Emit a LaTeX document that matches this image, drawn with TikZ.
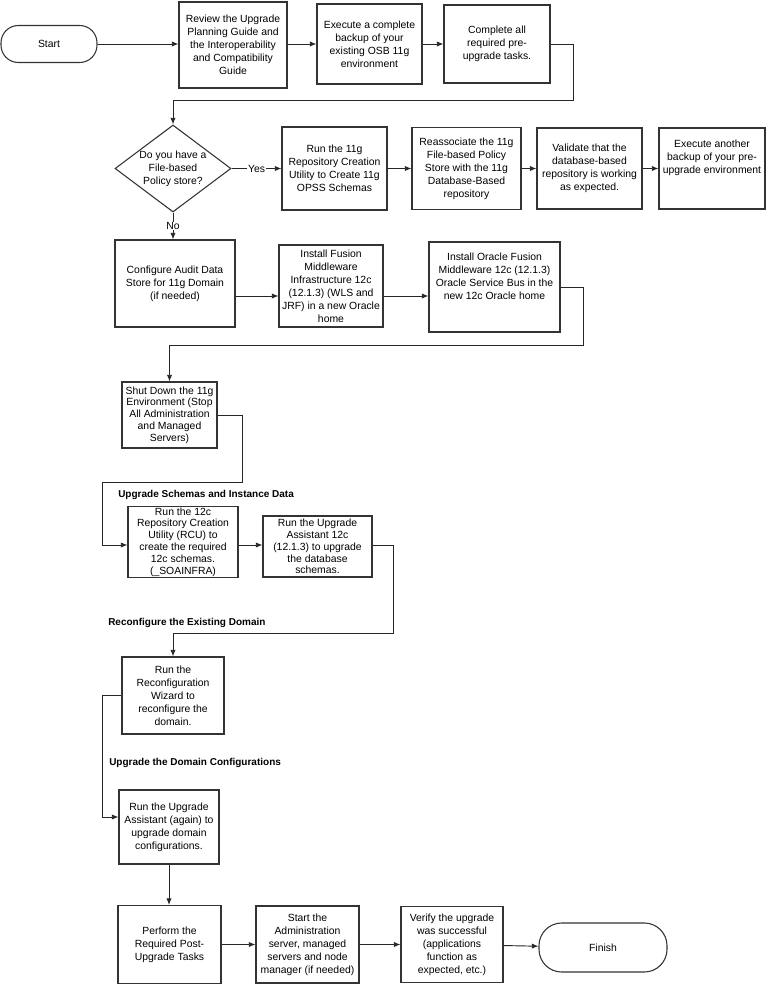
\documentclass[tikz,border=0pt]{standalone}
\usepackage{fontspec}
\setmainfont{Liberation Sans}
\usetikzlibrary{shapes, arrows.meta, positioning}

\begin{document}
\begin{tikzpicture}[x=0.75pt, y=-0.75pt,
    font=\fontsize{7.8pt}{9.75pt}\selectfont,
    box/.style={rectangle, draw=black!80, line width=0.8pt, align=center, inner sep=1pt},
    tight/.style={font=\fontsize{7.8pt}{8.85pt}\selectfont},
    term/.style={rectangle, draw=black!80, line width=0.8pt, rounded corners=13pt, align=center},
    flow/.style={draw=black!85, line width=0.7pt, -{Latex[length=5pt, width=4pt]}},
    phase/.style={anchor=west, inner sep=0pt, font=\fontsize{7.5pt}{9pt}\selectfont\bfseries}]
        \useasboundingbox (0,0) rectangle (768,985);

        % Preparation
        \node[term, minimum width=72pt, minimum height=27.75pt] (start) at (49,44) {Start};
        \node[box, minimum width=81pt, minimum height=64.5pt] (review) at (233,45) {Review the Upgrade\\Planning Guide and\\the Interoperability\\and Compatibility\\Guide};
        \node[box, minimum width=78.75pt, minimum height=60pt] (backup) at (369.5,44) {Execute a complete\\backup of your\\existing OSB 11g\\environment};
        \node[box, minimum width=79.5pt, minimum height=58.5pt] (pretasks) at (497,44) {Complete all\\required pre-\\upgrade tasks.};

        % Policy store decision
        \node[diamond, draw=black!80, line width=0.8pt, inner sep=0pt, minimum width=87pt, minimum height=65.25pt,
              label={[align=center]center:Do you have a\\File-based\\Policy store?}] (dec) at (173,168.5) {};
        \node[box, minimum width=78.75pt, minimum height=62.25pt] (rcu11) at (334.5,168.5) {Run the 11g\\Repository Creation\\Utility to Create 11g\\OPSS Schemas};
        \node[box, minimum width=81.75pt, minimum height=61.5pt] (reassoc) at (466.5,168.5) {Reassociate the 11g\\File-based Policy\\Store with the 11g\\Database-Based\\repository};
        \node[box, minimum width=78.75pt, minimum height=60.75pt] (validate) at (589.5,168.5) {Validate that the\\database-based\\repository is working\\as expected.};
        \node[box, minimum width=79.5pt, minimum height=60.75pt] (backup2) at (712,168.5) {Execute another\\backup of your pre-\\upgrade environment\\[8pt]};

        % Installation
        \node[box, minimum width=90pt, minimum height=65.25pt] (audit) at (175,283.5) {Configure Audit Data\\Store for 11g Domain\\(if needed)};
        \node[box, minimum width=78pt, minimum height=61.5pt] (infra) at (331,286) {Install Fusion\\Middleware\\Infrastructure 12c\\(12.1.3) (WLS and\\JRF) in a new Oracle\\home};
        \node[box, minimum width=98.25pt, minimum height=67.5pt] (osb) at (494.5,287) {Install Oracle Fusion\\Middleware 12c (12.1.3)\\Oracle Service Bus in the\\new 12c Oracle home\\[6pt]};
        \node[box, tight, minimum width=71.25pt, minimum height=49.5pt] (shut) at (169.5,415) {Shut Down the 11g\\Environment (Stop\\All Administration\\and Managed\\Servers)};

        % Schemas
        \node[phase] (schemas) at (118,495) {Upgrade Schemas and Instance Data};
        \node[box, tight, minimum width=82.5pt, minimum height=52.5pt] (rcu12) at (183,542) {Run the 12c\\Repository Creation\\Utility (RCU) to\\create the required\\12c schemas.\\(\_SOAINFRA)};
        \node[box, tight, minimum width=81.75pt, minimum height=45.75pt] (ua12) at (317.5,546.5) {Run the Upgrade\\Assistant 12c\\(12.1.3) to upgrade\\the database\\schemas.};

        % Domain
        \node[phase] (existing) at (108,623) {Reconfigure the Existing Domain};
        \node[box, minimum width=76.5pt, minimum height=57.75pt] (reconfig) at (173,695.5) {Run the\\Reconfiguration\\Wizard to\\reconfigure the\\domain.};
        \node[phase] (domconf) at (109,763) {Upgrade the Domain Configurations};
        \node[box, minimum width=75pt, minimum height=55.5pt] (uadomain) at (169,827) {Run the Upgrade\\Assistant (again) to\\upgrade domain\\configurations.};

        % Post-upgrade
        \node[box, minimum width=77.25pt, minimum height=58.5pt] (post) at (169.5,944.5) {Perform the\\Required Post-\\Upgrade Tasks};
        \node[box, minimum width=77.25pt, minimum height=57.75pt] (startsrv) at (307.5,944.5) {Start the\\Administration\\server, managed\\servers and node\\manager (if needed)};
        \node[box, minimum width=76.5pt, minimum height=57pt] (verify) at (452,944.5) {Verify the upgrade\\was successful\\(applications\\function as\\expected, etc.)};
        \node[term, rounded corners=17pt, minimum width=96pt, minimum height=36.75pt] (finish) at (603,947.5) {Finish};

        % Bends
        \coordinate (t1) at (573,100);
        \coordinate (r3) at (0,296);
        \coordinate (t2) at (583,345);
        \coordinate (t3) at (242,482);
        \coordinate (t4) at (102,545);
        \coordinate (t5) at (393,633);
        \coordinate (t6) at (102,817);

        % Connections
        \draw[flow] (start) -- (start -| review.west);
        \draw[flow] (review.east |- start) -- (backup.west |- start);
        \draw[flow] (backup) -- (pretasks);
        \draw[flow] (pretasks.east) -| (t1) -| (dec.north);
        \draw[flow] (dec.east) -- node[fill=white, inner sep=1pt] {Yes} (rcu11.west);
        \draw[flow] (rcu11) -- (reassoc);
        \draw[flow] (reassoc) -- (validate);
        \draw[flow] (validate) -- (backup2);
        \draw[flow] (dec.south) -- node[fill=white, inner sep=0.5pt] {No} (dec.south |- audit.north);
        \draw[flow] (audit.east |- r3) -- (infra.west |- r3);
        \draw[flow] (infra.east |- r3) -- (osb.west |- r3);
        \draw[flow] (osb.east) -| (t2) -| (shut.north);
        \draw[flow] (shut.east) -| (t3) -| (t4) -- (rcu12.west |- t4);
        \draw[flow] (rcu12.east |- t4) -- (ua12.west |- t4);
        \draw[flow] (ua12.east |- t4) -| (t5) -| (reconfig.north);
        \draw[flow] (reconfig.west) -| (t6) -- (uadomain.west |- t6);
        \draw[flow] (uadomain.south) -- (uadomain.south |- post.north);
        \draw[flow] (post) -- (startsrv);
        \draw[flow] (startsrv) -- (verify);
        \draw[flow] (verify) -- (finish);
    \end{tikzpicture}
\end{document}
